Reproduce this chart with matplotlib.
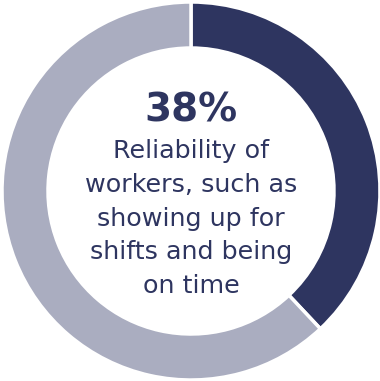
import matplotlib
matplotlib.use("Agg")
import matplotlib.pyplot as plt

# Share of respondents citing worker reliability
labels = ["Reliability of workers", "Other"]
values = [38, 62]
colors = ["#2e3560", "#aaadc0"]
headline = "38%"
caption_lines = ["Reliability of", "workers, such as", "showing up for",
                 "shifts and being", "on time"]

W, H = 380, 381
fig = plt.figure(figsize=(W / 100, H / 100), dpi=100)
ax = fig.add_axes([0, 0, 1, 1])

cx, cy, r = 191, H - 191, 189
ring = 46
ax.pie(values, colors=colors, startangle=90, counterclock=False,
       center=(cx, cy), radius=r, frame=True,
       wedgeprops=dict(width=ring, edgecolor="white", linewidth=2.5))
ax.set_xlim(0, W)
ax.set_ylim(0, H)
ax.set_aspect("equal")
ax.axis("off")

navy = "#2e3560"
ax.text(cx, H - 121, headline, ha="center", va="baseline",
        fontsize=28, fontweight="bold", color=navy, family="DejaVu Sans")

first_baseline, step = 158, 33.8
for i, line in enumerate(caption_lines):
    ax.text(cx, H - (first_baseline + i * step), line, ha="center",
            va="baseline", fontsize=18.3, color=navy, family="DejaVu Sans")

fig.savefig("out.png", dpi=100, facecolor="white")
